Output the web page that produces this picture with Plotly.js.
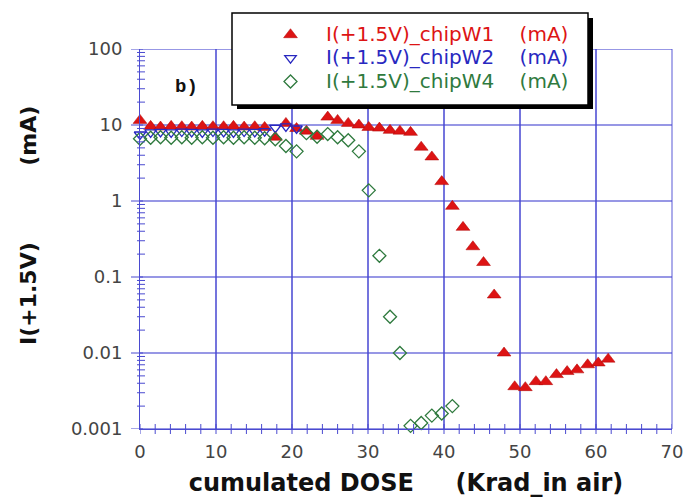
<!DOCTYPE html>
<html>
<head>
<meta charset="utf-8">
<script src="https://cdn.plot.ly/plotly-3.0.1.min.js"></script>
<style>html,body{margin:0;padding:0;background:#fff;}#chart{width:691px;height:498px;}</style>
</head>
<body>
<div id="chart"></div>
<script>
// ---- data ----
const doseW1 = [0, 1.4, 2.7, 4.1, 5.5, 6.8, 8.2, 9.6, 11.0, 12.3, 13.7, 15.1, 16.4, 17.8, 19.2, 20.6, 21.9, 23.3,
  24.7, 26.0, 27.4, 28.8, 30.1, 31.5, 32.9, 34.2, 35.6, 37.0, 38.4, 39.7, 41.1, 42.5, 43.8, 45.2, 46.6, 47.9,
  49.3, 50.7, 52.1, 53.4, 54.8, 56.2, 57.5, 58.9, 60.3, 61.6];
const currW1 = [11.5, 9.6, 9.4, 9.6, 9.5, 9.4, 9.6, 9.5, 9.5, 9.6, 9.4, 9.5, 9.3, 6.9, 10.5, 9.0, 8.3, 7.1,
  12.7, 11.5, 10.5, 10.0, 9.3, 9.1, 8.5, 8.3, 8.0, 5.1, 3.8, 1.8, 0.85, 0.45, 0.25, 0.155, 0.058, 0.010,
  0.0036, 0.0035, 0.0042, 0.0042, 0.0052, 0.0057, 0.0060, 0.0070, 0.0074, 0.0083];

const doseW2 = [0, 1.4, 2.7, 4.1, 5.5, 6.8, 8.2, 9.6, 11.0, 12.3, 13.7, 15.1, 16.4, 17.8, 19.2, 20.6];
const currW2 = [7.5, 8.0, 8.1, 8.0, 8.2, 8.1, 8.0, 8.2, 8.1, 8.0, 8.2, 8.1, 8.3, 9.2, 9.6, 9.0];

const doseW4 = [0, 1.4, 2.7, 4.1, 5.5, 6.8, 8.2, 9.6, 11.0, 12.3, 13.7, 15.1, 16.4, 17.8, 19.2, 20.6, 21.9, 23.3,
  24.7, 26.0, 27.4, 28.8, 30.1, 31.5, 32.9, 34.2, 35.6, 37.0, 38.4, 39.7, 41.1];
const currW4 = [6.6, 6.8, 6.9, 6.8, 6.9, 6.8, 6.9, 6.8, 6.9, 6.8, 6.9, 6.8, 6.7, 6.5, 5.3, 4.5, 7.8, 7.0,
  7.6, 6.9, 6.3, 4.5, 1.38, 0.19, 0.030, 0.010, 0.0011, 0.0012, 0.0015, 0.0016, 0.0020];

const seriesNames = ['I(+1.5V)_chipW1', 'I(+1.5V)_chipW2', 'I(+1.5V)_chipW4'];
const seriesUnit = '(mA)';
const xTickVals = [0, 10, 20, 30, 40, 50, 60, 70];
const xTickText = ['0', '10', '20', '30', '40', '50', '60', '70'];
const yTickVals = [0.001, 0.01, 0.1, 1, 10, 100];
const yTickText = ['0.001', '0.01', '0.1', '1', '10', '100'];
const yTitle = ['I(+1.5V)', '(mA)'];
const xTitle = ['cumulated', 'DOSE', '(Krad_in', 'air)'];
const panelLabel = 'b)';

// ---- styling ----
const NB = '\u00A0';
const red = '#dd1414', blue = '#2828c0', green = '#2f7a3e';
const gridCol = 'rgba(70,70,210,0.75)';
const axCol = '#4a4ad0';
function legendName(name, unit, col) {
  return '<span style="color:' + col + ';font-size:20px">' + name + NB.repeat(4) + unit + '</span>';
}

const traces = [
  {x: doseW1, y: currW1, type: 'scatter', mode: 'markers', name: legendName(seriesNames[0], seriesUnit, red),
   cliponaxis: false,
   marker: {symbol: 'triangle-up', size: 12, color: red, line: {color: '#b00000', width: 0.5}}},
  {x: doseW2, y: currW2, type: 'scatter', mode: 'markers', name: legendName(seriesNames[1], seriesUnit, blue),
   cliponaxis: false,
   marker: {symbol: 'triangle-down-open', size: 10, color: blue, line: {color: blue, width: 1.3}}},
  {x: doseW4, y: currW4, type: 'scatter', mode: 'markers', name: legendName(seriesNames[2], seriesUnit, green),
   cliponaxis: false,
   marker: {symbol: 'diamond-open', size: 10, color: green, line: {color: green, width: 1.3}}}
];

const L = 140, R = 672, T = 49, B = 429;
const px = v => (v - L) / (R - L);
const py = v => (B - v) / (B - T);
const dxp = n => n / (R - L);   // pixels -> paper fraction (x)
const dyp = n => n / (B - T);   // pixels -> paper fraction (y)

// decoration: grid lines and tick marks, positioned from the tick arrays
const decoShapes = [];
yTickVals.forEach((d, i) => {
  decoShapes.push({type: 'line', xref: 'paper', yref: 'y', x0: 0, x1: 1, y0: d, y1: d,
    layer: 'below', line: {color: gridCol, width: 1.3}});
  decoShapes.push({type: 'line', xref: 'paper', yref: 'y', x0: -dxp(9), x1: dxp(3), y0: d, y1: d,
    layer: 'above', line: {color: axCol, width: 1}});
  if (i < yTickVals.length - 1) {
    for (let k = 2; k <= 9; k++) {
      decoShapes.push({type: 'line', xref: 'paper', yref: 'y', x0: -dxp(3), x1: dxp(5), y0: d * k, y1: d * k,
        layer: 'above', line: {color: axCol, width: 1}});
    }
  }
});
for (let v = xTickVals[0]; v <= xTickVals[xTickVals.length - 1]; v += 2) {
  decoShapes.push({type: 'line', xref: 'x', yref: 'paper', x0: v, x1: v, y0: -dyp(5), y1: dyp(5),
    layer: 'above', line: {color: axCol, width: 1}});
}
decoShapes.push({type: 'line', xref: 'paper', yref: 'paper', x0: 1, x1: 1, y0: 0, y1: 1, layer: 'below',
  line: {color: gridCol, width: 1.2}});
// legend box with drop shadow
decoShapes.push({type: 'rect', xref: 'paper', yref: 'paper', x0: px(237), x1: px(593), y0: py(18), y1: py(109),
  layer: 'above', fillcolor: '#000', line: {width: 0}});
decoShapes.push({type: 'rect', xref: 'paper', yref: 'paper', x0: px(232), x1: px(588), y0: py(13), y1: py(105),
  layer: 'above', fillcolor: '#fff', line: {color: '#000', width: 1.5}});

const tickFont = {family: 'DejaVu Sans', size: 18, color: '#444'};
const layout = {
  width: 691, height: 498,
  margin: {l: L, r: 691 - R, t: T, b: 498 - B, pad: 0},
  paper_bgcolor: '#fff', plot_bgcolor: '#fff',
  showlegend: true,
  legend: {x: px(255), xanchor: 'left', y: py(18), yanchor: 'top', bgcolor: 'rgba(0,0,0,0)', borderwidth: 0,
           font: {family: 'DejaVu Sans', size: 15.7, color: '#000'}, itemwidth: 61, tracegroupgap: 0,
           itemsizing: 'trace'},
  xaxis: {
    type: 'linear', range: [xTickVals[0], xTickVals[xTickVals.length - 1]], autorange: false, fixedrange: true,
    tickvals: xTickVals, ticktext: xTickText, tickfont: tickFont,
    ticks: 'outside', ticklen: 6, tickcolor: 'rgba(0,0,0,0)', tickwidth: 1,
    showgrid: true, gridcolor: gridCol, gridwidth: 1.2,
    showline: true, linecolor: axCol, linewidth: 1.2, mirror: false, zeroline: false,
    title: {text: xTitle[0] + NB + xTitle[1] + NB.repeat(5) + xTitle[2] + NB + xTitle[3],
            font: {family: 'DejaVu Sans', size: 24, color: '#111', weight: 'bold'}, standoff: 13},
    automargin: false
  },
  yaxis: {
    type: 'log', range: [Math.log10(yTickVals[0]), Math.log10(yTickVals[yTickVals.length - 1])],
    autorange: false, fixedrange: true,
    tickmode: 'array', tickvals: yTickVals, ticktext: yTickText.map(t => t + NB), tickfont: tickFont,
    ticks: 'outside', ticklen: 7, tickcolor: 'rgba(0,0,0,0)', tickwidth: 1,
    showgrid: false,
    showline: true, linecolor: axCol, linewidth: 1.2, zeroline: false,
    automargin: false
  },
  shapes: decoShapes,
  annotations: [
    {text: '<b>' + panelLabel + '</b>', xref: 'paper', yref: 'paper', x: px(186), y: py(87),
     xanchor: 'center', yanchor: 'middle', showarrow: false,
     font: {family: 'Liberation Mono', size: 19, color: '#111'}},
    {text: '<b>' + yTitle[0] + NB.repeat(10) + yTitle[1] + '</b>', textangle: -90,
     xref: 'paper', yref: 'paper', x: px(28), y: py(226), xanchor: 'center', yanchor: 'middle',
     showarrow: false, font: {family: 'DejaVu Sans', size: 22, color: '#111'}}
  ]
};

Plotly.newPlot('chart', traces, layout, {displayModeBar: false, staticPlot: true});
</script>
</body>
</html>
